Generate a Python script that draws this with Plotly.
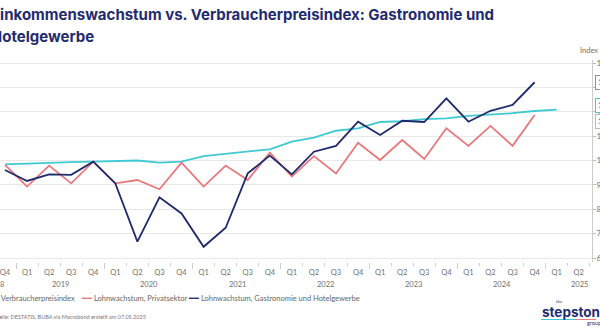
import plotly.graph_objects as go

# ---- data ----
quarter_labels = ["Q4", "Q1", "Q2", "Q3", "Q4", "Q1", "Q2", "Q3", "Q4", "Q1", "Q2", "Q3", "Q4",
                  "Q1", "Q2", "Q3", "Q4", "Q1", "Q2", "Q3", "Q4", "Q1", "Q2", "Q3", "Q4", "Q1", "Q2"]
year_labels = ["2018", "2019", "2020", "2021", "2022", "2023", "2024", "2025"]
year_label_pos = [-0.45, 2.5, 6.5, 10.5, 14.5, 18.5, 22.5, 26.0]

vpi = [98.4, 98.8, 99.1, 99.3, 99.5, 99.7, 100.0, 99.1, 99.5, 101.8, 102.7, 103.5, 104.6,
       107.7, 109.4, 112.2, 113.2, 115.8, 116.1, 117.0, 117.3, 118.3, 118.7, 119.4, 120.3, 120.9]
lohn_privat = [98.2, 89.3, 97.9, 90.6, 99.5, 90.6, 92.0, 88.2, 99.1, 89.3, 97.9, 92.0, 103.2,
               93.4, 101.8, 94.7, 107.3, 100.2, 108.4, 100.6, 113.2, 106.0, 114.2, 106.0, 118.7]
lohn_gastro = [96.1, 91.6, 94.3, 94.1, 99.5, 90.6, 66.7, 84.9, 78.3, 64.6, 72.4, 94.7, 102.0,
               94.3, 103.6, 106.0, 115.9, 110.5, 116.3, 115.8, 125.5, 115.9, 120.4, 122.8, 132.1]
y_ticks = [60, 70, 80, 90, 100, 110, 120, 130, 140]

names = ["Verbraucherpreisindex", "Lohnwachstum, Privatsektor",
         "Lohnwachstum, Gastronomie und Hotelgewerbe"]
colors = ["#3fc9d2", "#e8787b", "#1e2a6c"]

# ---- figure ----
fig = go.Figure()
for vals, name, col in zip([vpi, lohn_privat, lohn_gastro], names, colors):
    fig.add_trace(go.Scatter(x=list(range(len(vals))), y=vals, mode="lines", name=name,
                             line=dict(color=col, width=1.8), showlegend=False))
# helper trace for the secondary x axis (year boundary ticks)
fig.add_trace(go.Scatter(x=[None], y=[None], xaxis="x2", showlegend=False, hoverinfo="skip"))

xr = [-0.226, 26.6]
quarter_bounds = [i + 0.5 for i in range(-1, 27)]
year_bounds = [0.5 + 4 * k for k in range(7)]

fig.update_layout(
    width=600, height=330,
    margin=dict(l=0, r=8, t=60, b=68),
    paper_bgcolor="white", plot_bgcolor="white",
    font=dict(family="Lato", color="#6b6b6b"),
    xaxis=dict(range=xr, tickmode="array", tickvals=[float(i) for i in range(len(quarter_labels))],
               ticktext=quarter_labels, ticks="", showgrid=False, showline=False, zeroline=False,
               tickfont=dict(size=7.5, color="#707070"), ticklabelstandoff=4,
               ticklabeloverflow="allow",
               minor=dict(tickmode="array", tickvals=quarter_bounds, ticks="outside",
                          ticklen=3, tickcolor="#cfcfcf", showgrid=False)),
    xaxis2=dict(range=xr, overlaying="x", anchor="y", side="bottom", tickmode="array",
                tickvals=year_bounds, ticks="outside", ticklen=6, tickcolor="#cfcfcf",
                showticklabels=False, showgrid=False, showline=False, zeroline=False),
    yaxis=dict(range=[58.36, 141.23], side="right", tickmode="array", tickvals=y_ticks,
               showgrid=True, gridcolor="#e9e9e9", gridwidth=1, zeroline=False,
               showline=True, linecolor="#cccccc", ticks="outside", ticklen=3,
               tickcolor="#bbbbbb", tickfont=dict(size=8, color="#707070"), automargin=False,
               ticklabelstandoff=-1, ticklabeloverflow="allow"),
)

ann = []
# title (left part cropped as in reference)
ttl = dict(family="Inter", size=15, color="#1f2c6e", weight=700)
ann.append(dict(text="Einkommenswachstum vs. Verbraucherpreisindex: Gastronomie und",
                x=-11 / 592, y=(262 - 14) / 202, xref="paper", yref="paper",
                xanchor="left", yanchor="middle", showarrow=False, font=ttl))
ann.append(dict(text="Hotelgewerbe", x=-11 / 592, y=(262 - 37) / 202, xref="paper", yref="paper",
                xanchor="left", yanchor="middle", showarrow=False, font=ttl))
# axis unit
ann.append(dict(text="Index", x=600 / 592, y=(262 - 51) / 202, xref="paper", yref="paper",
                xanchor="right", yanchor="middle", showarrow=False,
                font=dict(size=7.5, color="#707070")))
# year labels (paper coordinates so the cropped 2018 label stays drawn)
x_px0, x_step = 5.0, 22.1
for lab, pos in zip(year_labels, year_label_pos):
    ann.append(dict(text=lab, x=(x_px0 + x_step * pos) / 592, y=(262 - 284) / 202,
                    xref="paper", yref="paper", xanchor="center", yanchor="middle",
                    showarrow=False, font=dict(size=7.5, color="#707070")))
# legend
leg_x = [-14, 79, 186]
for nm, col, lx in zip(names, colors, leg_x):
    ann.append(dict(text=f'<span style="color:{col}">━━</span> {nm}', x=lx / 592,
                    y=(262 - 298) / 202, xref="paper", yref="paper", xanchor="left",
                    yanchor="middle", showarrow=False, font=dict(size=7.5, color="#666666")))
# source
ann.append(dict(text="Quelle: DESTATIS, BUBA via Macrobond erstellt am 07.05.2025",
                x=-10 / 592, y=(262 - 317) / 202, xref="paper", yref="paper", xanchor="left",
                yanchor="middle", showarrow=False, font=dict(size=5.5, color="#777777")))
# last-value callouts (cropped)
for txt, py, col in [("132,1", 82, "#8a8fa8"), ("120,9", 105, "#3fc9d2"), ("118,7", 121, "#c9b7a8")]:
    ann.append(dict(text=txt, x=595 / 592, y=(262 - py) / 202, xref="paper", yref="paper",
                    xanchor="left", yanchor="middle", showarrow=False, bgcolor="white",
                    bordercolor=col, borderwidth=1, borderpad=2,
                    font=dict(size=7.5, color="#555555")))
# logo
ann.append(dict(text="the", x=559 / 592, y=(262 - 301) / 202, xref="paper", yref="paper",
                xanchor="center", yanchor="middle", showarrow=False,
                font=dict(size=4.5, color="#1f2c6e")))
ann.append(dict(text="<b>stepstone</b>", x=540 / 592, y=(262 - 312) / 202, xref="paper",
                yref="paper", xanchor="left", yanchor="middle", showarrow=False,
                font=dict(family="Inter", size=13.5, color="#1f2c6e")))
ann.append(dict(text="group", x=585 / 592, y=(262 - 323) / 202, xref="paper", yref="paper",
                xanchor="left", yanchor="middle", showarrow=False,
                font=dict(size=5.5, color="#1f2c6e")))
fig.update_layout(annotations=ann)

fig.add_shape(type="line", xref="paper", yref="paper", x0=541 / 592, x1=575 / 592,
              y0=(262 - 319.5) / 202, y1=(262 - 319.5) / 202, line=dict(color="#3fc9d2", width=1))
fig.add_shape(type="line", xref="paper", yref="paper", x0=575 / 592, x1=596 / 592,
              y0=(262 - 319.5) / 202, y1=(262 - 319.5) / 202, line=dict(color="#e8787b", width=1))

fig.write_html("out.html")
